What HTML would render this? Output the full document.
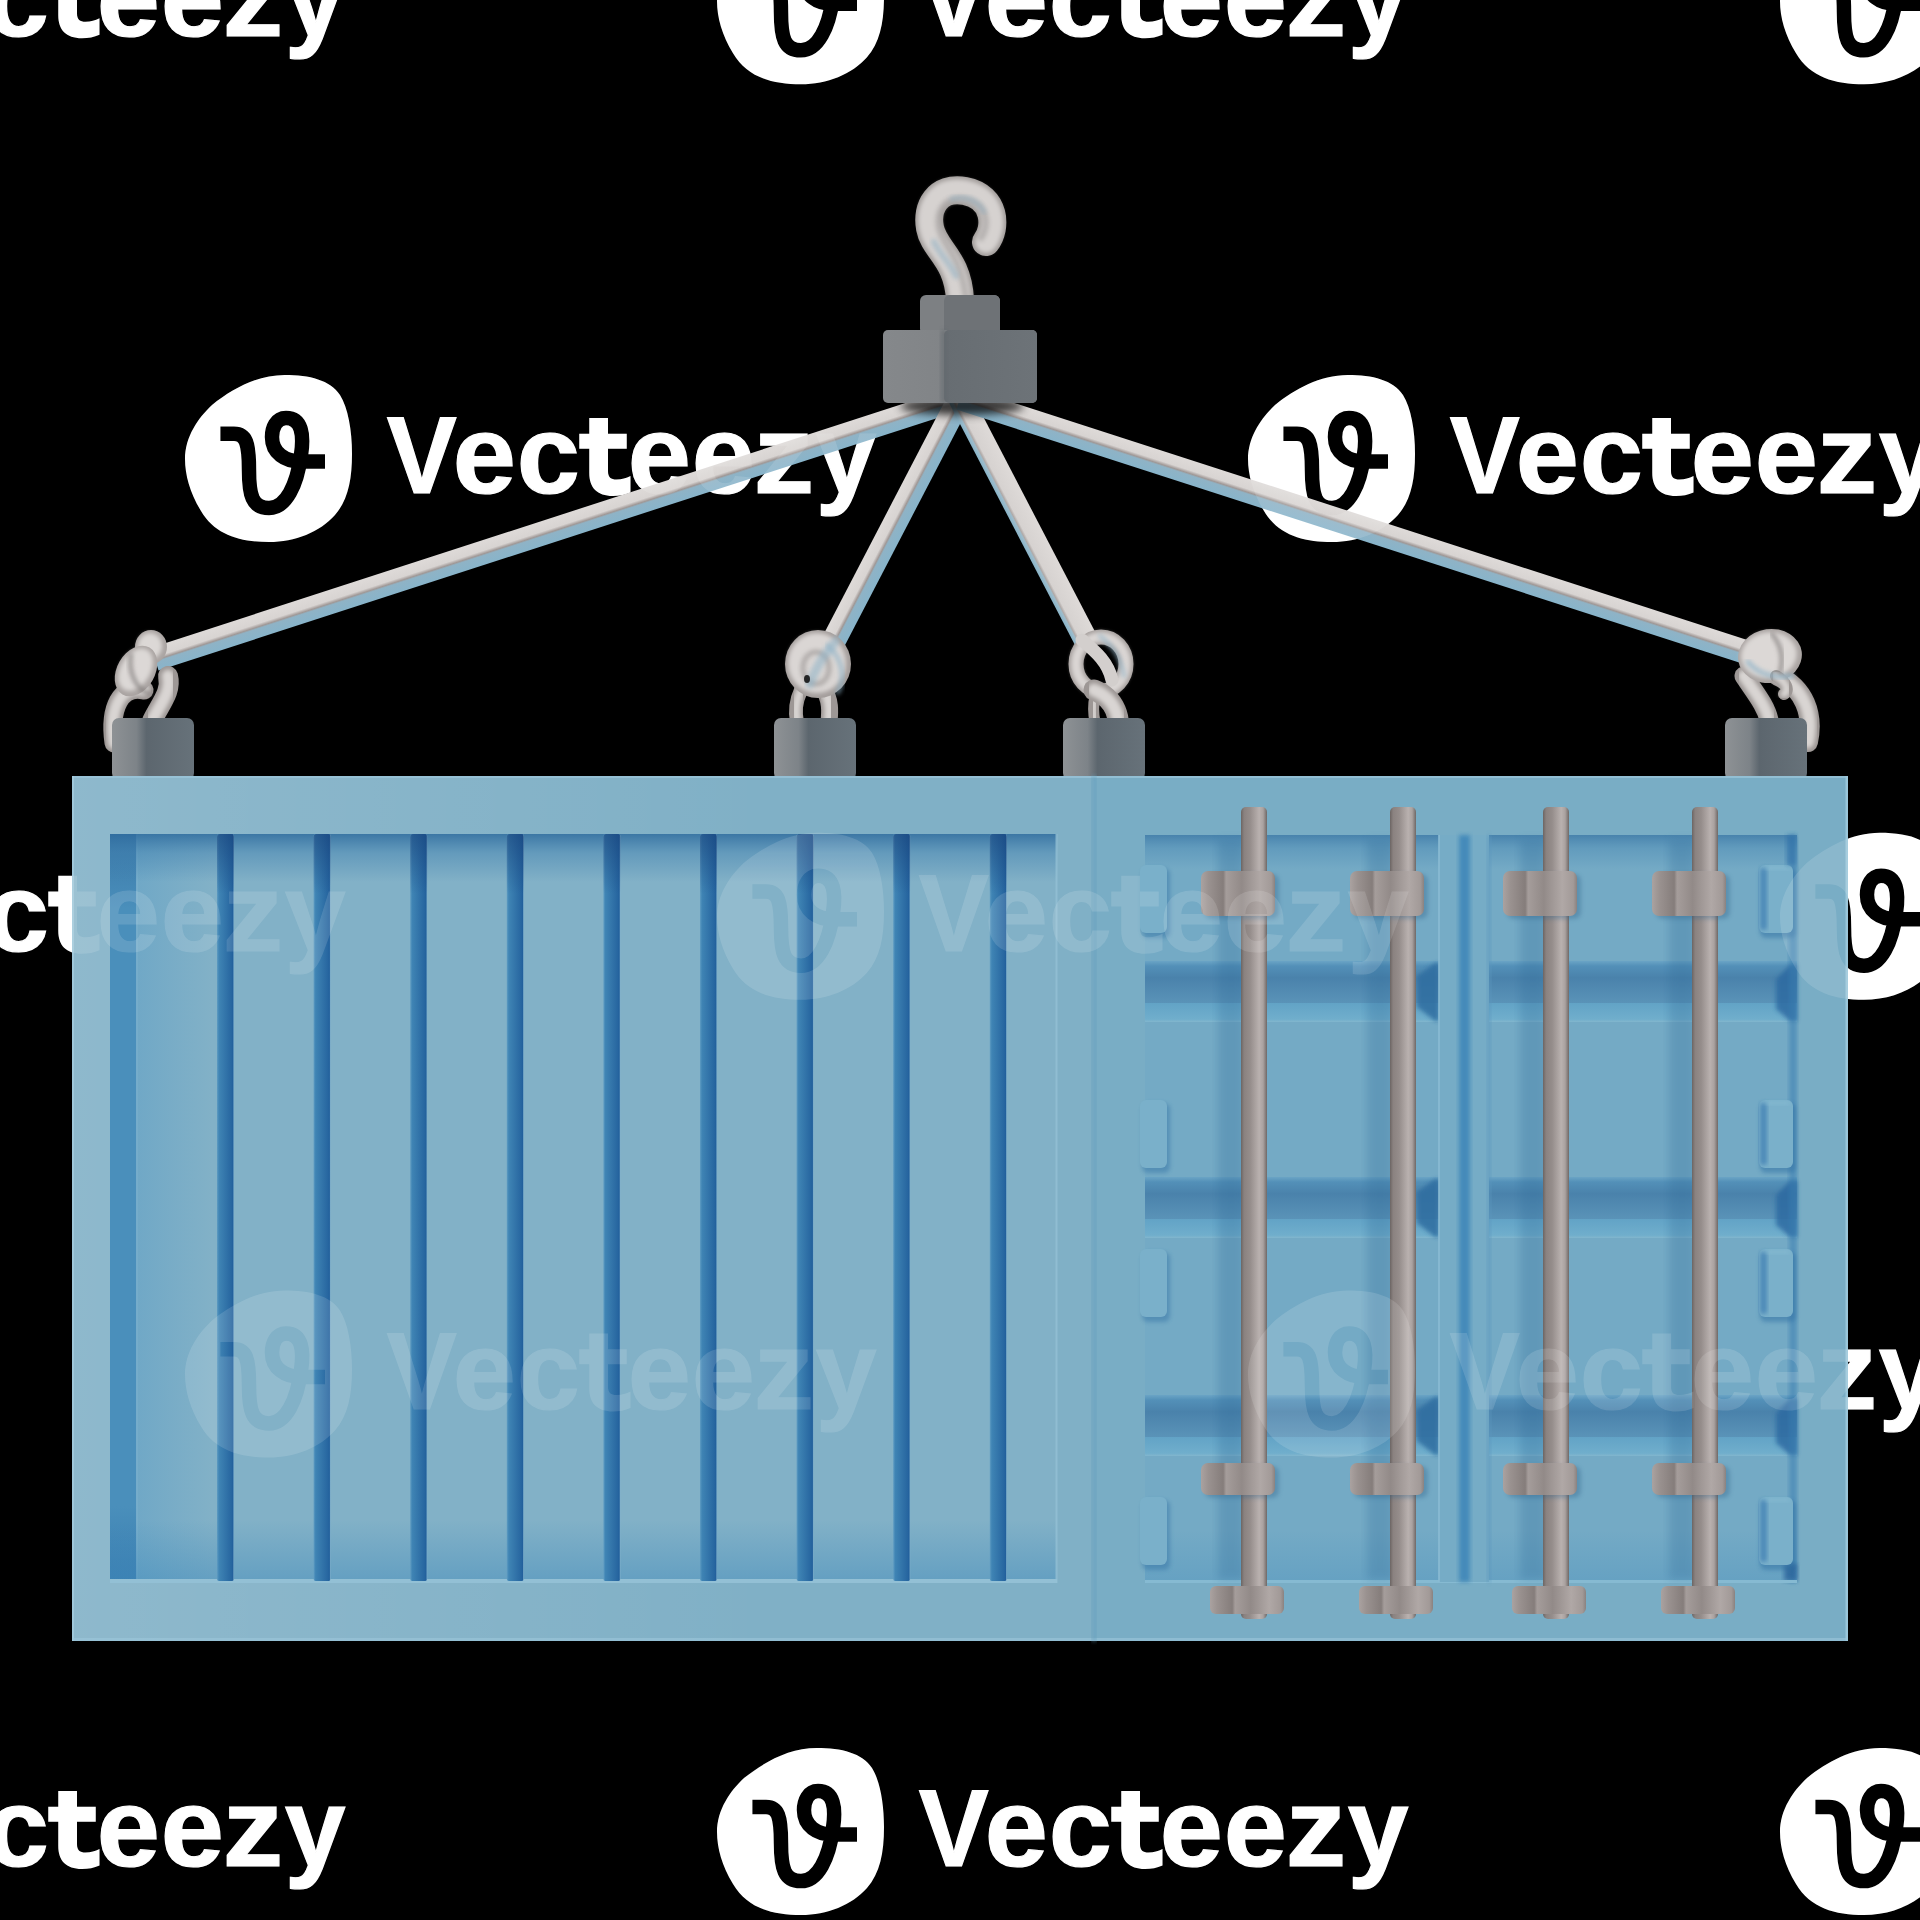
<!DOCTYPE html>
<html><head><meta charset="utf-8"><style>html,body{margin:0;padding:0;background:#000;width:1920px;height:1920px;overflow:hidden}</style></head>
<body>
<svg width="1920" height="1920" viewBox="0 0 1920 1920" style="display:block">
<defs>
<mask id="vmask" maskUnits="userSpaceOnUse" x="-10" y="-10" width="200" height="200">
  <rect x="-10" y="-10" width="200" height="200" fill="#000"/>
  <path d="M99.6 0 C125 0 145 5 155 20 C163 33 167 55 167 79 C167 105 163 125 150 140 C135 157 110 167 84 167 C55 167 30 160 16 136 C5 118 0 100 0 84 C0 62 13 43 27 30 C47 14 72 0 99.6 0 Z" fill="#fff"/>
  <path d="M35.4 58.8 L49 58.8 C61 58.8 64 68 64 95 C64 120 67 133 84 133 C101 133 112 110 116 80 C119 60 117 43 101 43 C91 43 87 53 87 62 C87 78 100 86.5 116 86.5 L140 86.5" fill="none" stroke="#000" stroke-width="14.5" stroke-linejoin="round"/>
</mask>
<g id="wm">
  <rect x="-10" y="-10" width="200" height="200" fill="#fff" mask="url(#vmask)"/>
  <text transform="translate(201.75 118.2) scale(0.946 0.994)" font-family="Liberation Sans" font-weight="bold" font-size="111" fill="#fff" stroke="#fff" stroke-width="1.2">V</text>
  <text transform="translate(267.66 118.2) scale(1.023 0.996)" font-family="Liberation Sans" font-weight="bold" font-size="111" fill="#fff" stroke="#fff" stroke-width="1.2">e</text>
  <text transform="translate(331.66 118.2) scale(1.023 0.996)" font-family="Liberation Sans" font-weight="bold" font-size="111" fill="#fff" stroke="#fff" stroke-width="1.2">c</text>
  <path d="M404.25 43 L423 43 L423 58.75 L441.75 58.75 L441.75 73.75 L423 73.75 L423 96 C423 102.5 426 104.5 431.5 104.5 C437 104.5 441 103 445.5 101 L445.5 117.5 C440 120 434.5 121 428 121 C412 121 404.25 112.5 404.25 98 L404.25 73.75 L394.25 73.75 L394.25 58.75 L404.25 58.75 Z" fill="#fff"/>
  <text transform="translate(442.66 118.2) scale(1.023 0.996)" font-family="Liberation Sans" font-weight="bold" font-size="111" fill="#fff" stroke="#fff" stroke-width="1.2">e</text>
  <text transform="translate(506.66 118.2) scale(1.023 0.996)" font-family="Liberation Sans" font-weight="bold" font-size="111" fill="#fff" stroke="#fff" stroke-width="1.2">e</text>
  <text transform="translate(568.38 118.2) scale(1.094 1.000)" font-family="Liberation Sans" font-weight="bold" font-size="111" fill="#fff" stroke="#fff" stroke-width="1.2">z</text>
  <text transform="translate(630.75 118.2) scale(0.984 1.000)" font-family="Liberation Sans" font-weight="bold" font-size="111" fill="#fff" stroke="#fff" stroke-width="1.2">y</text>
</g>
<filter id="blur2" x="-20%" y="-20%" width="140%" height="140%"><feGaussianBlur stdDeviation="2"/></filter>
<filter id="blur4" x="-20%" y="-50%" width="140%" height="200%"><feGaussianBlur stdDeviation="4"/></filter>

<linearGradient id="gBlockL" x1="0" x2="1"><stop offset="0" stop-color="#85888b"/><stop offset="1" stop-color="#7b7e81"/></linearGradient>
<linearGradient id="gBlockR" x1="0" x2="1"><stop offset="0" stop-color="#676d72"/><stop offset="1" stop-color="#6d7378"/></linearGradient>
<linearGradient id="gPost" x1="0" x2="1">
  <stop offset="0" stop-color="#8e9295"/><stop offset="0.3" stop-color="#7d8388"/><stop offset="0.42" stop-color="#5c666e"/><stop offset="1" stop-color="#67727a"/>
</linearGradient>
<linearGradient id="gRib" x1="0" x2="1">
  <stop offset="0" stop-color="#5f9cc2"/><stop offset="0.12" stop-color="#3f84b4"/><stop offset="0.85" stop-color="#2766a0"/><stop offset="0.93" stop-color="#22609c"/><stop offset="1" stop-color="#7fb0cc"/>
</linearGradient>
<linearGradient id="gRibTop" x1="0" x2="0" y1="0" y2="1">
  <stop offset="0" stop-color="#163f78" stop-opacity="0.6"/><stop offset="1" stop-color="#163f78" stop-opacity="0"/>
</linearGradient>
<linearGradient id="gRod" x1="0" x2="1">
  <stop offset="0" stop-color="#6c6563"/><stop offset="0.12" stop-color="#8a8280"/><stop offset="0.35" stop-color="#958d8b"/><stop offset="0.7" stop-color="#b9b1af"/><stop offset="0.85" stop-color="#aaa2a0"/><stop offset="1" stop-color="#6f6866"/>
</linearGradient>
<linearGradient id="gBracket" x1="0" x2="1">
  <stop offset="0" stop-color="#aaa2a0"/><stop offset="0.1" stop-color="#9a9290"/><stop offset="0.3" stop-color="#857d7b"/><stop offset="0.34" stop-color="#a59d9b"/><stop offset="0.55" stop-color="#928a88"/><stop offset="0.8" stop-color="#b0a8a6"/><stop offset="0.95" stop-color="#a29a98"/><stop offset="1" stop-color="#8a8280"/>
</linearGradient>
<linearGradient id="gPanelTop" x1="0" x2="0" y1="0" y2="1">
  <stop offset="0" stop-color="#2f6c9e" stop-opacity="0.85"/><stop offset="0.4" stop-color="#3f7fae" stop-opacity="0.45"/><stop offset="1" stop-color="#3f7fae" stop-opacity="0"/>
</linearGradient>
<linearGradient id="gPanelBot" x1="0" x2="0" y1="0" y2="1">
  <stop offset="0" stop-color="#3f8abb" stop-opacity="0"/><stop offset="1" stop-color="#3f8abb" stop-opacity="0.45"/>
</linearGradient>
<linearGradient id="gLeftFade" x1="0" x2="1">
  <stop offset="0" stop-color="#64a2c6" stop-opacity="0.6"/><stop offset="1" stop-color="#64a2c6" stop-opacity="0"/>
</linearGradient>
<linearGradient id="gStrip" x1="0" x2="0" y1="0" y2="1">
  <stop offset="0" stop-color="#3a78a8"/><stop offset="0.1" stop-color="#4a8fbb"/><stop offset="0.9" stop-color="#4a8fbb"/><stop offset="1" stop-color="#3a7db0"/>
</linearGradient>
<linearGradient id="gGroove" x1="0" x2="0" y1="0" y2="1">
  <stop offset="0" stop-color="#6aa4c5"/><stop offset="0.12" stop-color="#5390b8"/><stop offset="0.4" stop-color="#4a82ab"/><stop offset="1" stop-color="#5a93b8"/>
</linearGradient>
<linearGradient id="gRaised" x1="0" x2="0" y1="0" y2="1">
  <stop offset="0" stop-color="#62a3c6"/><stop offset="0.85" stop-color="#70aecc"/><stop offset="1" stop-color="#82b6cd"/>
</linearGradient>
<linearGradient id="gFrameShade" x1="0" x2="1" y1="0" y2="0">
  <stop offset="0" stop-color="#ffffff" stop-opacity="0.11"/><stop offset="1" stop-color="#ffffff" stop-opacity="0"/>
</linearGradient>
<linearGradient id="gCableL" gradientUnits="userSpaceOnUse" x1="0" y1="-12" x2="0" y2="12">
  <stop offset="0" stop-color="#dedad8"/><stop offset="0.42" stop-color="#d8d4d2"/><stop offset="0.55" stop-color="#a09896"/><stop offset="0.62" stop-color="#8fb3c6"/><stop offset="1" stop-color="#88b4ca"/>
</linearGradient>
<linearGradient id="gCableR" gradientUnits="userSpaceOnUse" x1="0" y1="-12" x2="0" y2="12">
  <stop offset="0" stop-color="#dedad8"/><stop offset="0.7" stop-color="#d6d2d0"/><stop offset="0.8" stop-color="#b0aaa8"/><stop offset="0.86" stop-color="#9cbccc"/><stop offset="1" stop-color="#8ab4c8"/>
</linearGradient>
<linearGradient id="gHook" x1="0" x2="1">
  <stop offset="0" stop-color="#d8d4d2"/><stop offset="0.5" stop-color="#bdb7b5"/><stop offset="1" stop-color="#d5d1cf"/>
</linearGradient>
</defs>
<rect width="1920" height="1920" fill="#000"/>
<use href="#wm" x="-346.0" y="-82.7"/>
<use href="#wm" x="717.0" y="-82.7"/>
<use href="#wm" x="1780.0" y="-82.7"/>
<use href="#wm" x="185.0" y="375.0"/>
<use href="#wm" x="1248.0" y="375.0"/>
<use href="#wm" x="-346.0" y="832.7"/>
<use href="#wm" x="717.0" y="832.7"/>
<use href="#wm" x="1780.0" y="832.7"/>
<use href="#wm" x="185.0" y="1290.4"/>
<use href="#wm" x="1248.0" y="1290.4"/>
<use href="#wm" x="-346.0" y="1748.1"/>
<use href="#wm" x="717.0" y="1748.1"/>
<use href="#wm" x="1780.0" y="1748.1"/>
<g transform="translate(960,398) rotate(162.034) scale(1,-1)"><rect x="0" y="-12" width="846.4" height="24" fill="url(#gCableL)"/></g>
<g transform="translate(960,398) rotate(117.467) scale(1,-1)"><rect x="0" y="-12" width="281.0" height="24" fill="url(#gCableL)"/></g>
<g transform="translate(960,398) rotate(62.533) scale(1,1)"><rect x="0" y="-12" width="281.0" height="24" fill="url(#gCableR)"/></g>
<g transform="translate(960,398) rotate(17.916) scale(1,1)"><rect x="0" y="-12" width="835.7" height="24" fill="url(#gCableL)"/></g>
<ellipse cx="962" cy="406" rx="62" ry="9" fill="#000" opacity="0.75" filter="url(#blur4)"/>
<path d="M986 242 C997 228 996 197 965 191 C937 186 926 208 930 228 C934 250 958 258 960 300" fill="none" stroke="#a29d9b" stroke-width="28" stroke-linecap="round"/>
<path d="M986 242 C997 228 996 197 965 191 C937 186 926 208 930 228 C934 250 958 258 960 300" fill="none" stroke="#d6d2d0" stroke-width="22" stroke-linecap="round" filter="url(#blur2)"/>
<path d="M981 238 C989 226 989 204 965 199 C944 196 936 212 939 228 C942 246 962 256 966 300" fill="none" stroke="#8e8a89" stroke-width="6" stroke-linecap="round" opacity="0.45" filter="url(#blur2)"/>
<path d="M934 242 C941 256 950 263 956 276" fill="none" stroke="#8fb0c4" stroke-width="6" stroke-linecap="round" opacity="0.55" filter="url(#blur2)"/>
<path d="M952 199 C966 195 979 201 984 212" fill="none" stroke="#8fb0c4" stroke-width="5" stroke-linecap="round" opacity="0.45" filter="url(#blur2)"/>
<rect x="920" y="295" width="80" height="40" rx="6" fill="#7d8083"/>
<rect x="944" y="295" width="56" height="40" rx="6" fill="#6e7276"/>
<rect x="883" y="330" width="154" height="73" rx="5" fill="url(#gBlockL)"/>
<rect x="944" y="330" width="93" height="73" rx="5" fill="url(#gBlockR)"/>
<rect x="941" y="330" width="6" height="73" fill="#62686d" opacity="0.6" filter="url(#blur2)"/>
<path d="M144 690 C121 684 109 708 114 743" fill="none" stroke="#9d9795" stroke-width="19" stroke-linecap="round"/><path d="M144 690 C121 684 109 708 114 743" fill="none" stroke="#d9d5d3" stroke-width="11.8" stroke-linecap="round" filter="url(#blur2)"/>
<path d="M168 676 C172 692 160 704 152 721" fill="none" stroke="#9d9795" stroke-width="20" stroke-linecap="round"/><path d="M168 676 C172 692 160 704 152 721" fill="none" stroke="#d9d5d3" stroke-width="12.4" stroke-linecap="round" filter="url(#blur2)"/>
<ellipse cx="151" cy="647" rx="16" ry="17" transform="rotate(0 151 647)" fill="#aaa4a2"/><ellipse cx="150" cy="646" rx="12" ry="13" transform="rotate(0 151 647)" fill="#dcd8d6" filter="url(#blur2)"/>
<ellipse cx="136" cy="671" rx="19" ry="27" transform="rotate(30 136 671)" fill="#aaa4a2"/><ellipse cx="135" cy="670" rx="15" ry="23" transform="rotate(30 136 671)" fill="#dcd8d6" filter="url(#blur2)"/>
<path d="M131 655 C128 672 136 690 150 694" fill="none" stroke="#7d7877" stroke-width="4" stroke-linecap="round" opacity="0.7" filter="url(#blur2)"/>
<path d="M801 690 C795 703 795 712 797 722" fill="none" stroke="#9d9795" stroke-width="14" stroke-linecap="round"/><path d="M801 690 C795 703 795 712 797 722" fill="none" stroke="#d9d5d3" stroke-width="8.7" stroke-linecap="round" filter="url(#blur2)"/>
<path d="M823 688 C831 700 830 712 829 722" fill="none" stroke="#9d9795" stroke-width="17" stroke-linecap="round"/><path d="M823 688 C831 700 830 712 829 722" fill="none" stroke="#d9d5d3" stroke-width="10.5" stroke-linecap="round" filter="url(#blur2)"/>
<ellipse cx="818" cy="664" rx="33" ry="34" fill="#a49e9c"/>
<ellipse cx="817" cy="663" rx="29" ry="30" fill="#dad6d4" filter="url(#blur2)"/>
<ellipse cx="816" cy="668" rx="13" ry="16" fill="none" stroke="#8f8a89" stroke-width="5" opacity="0.55" filter="url(#blur2)"/>
<path d="M836 641 C826 652 816 666 810 684" fill="none" stroke="#8fb3c8" stroke-width="9" stroke-linecap="round" opacity="0.55" filter="url(#blur2)"/>
<ellipse cx="807" cy="679" rx="3" ry="4" fill="#000" opacity="0.8"/>
<path d="M828 646 C842 658 846 676 838 692" fill="none" stroke="#8fb3c8" stroke-width="5" stroke-linecap="round" opacity="0.6" filter="url(#blur2)"/>
<path d="M1095 696 C1093 705 1093 712 1095 722" fill="none" stroke="#9d9795" stroke-width="11" stroke-linecap="round"/><path d="M1095 696 C1093 705 1093 712 1095 722" fill="none" stroke="#d9d5d3" stroke-width="6.8" stroke-linecap="round" filter="url(#blur2)"/>
<ellipse cx="1101" cy="664" rx="25" ry="27" fill="none" stroke="#a49e9c" stroke-width="15"/>
<ellipse cx="1101" cy="664" rx="25" ry="27" fill="none" stroke="#dad6d4" stroke-width="10" filter="url(#blur2)"/>
<path d="M1082 640 C1096 652 1108 662 1112 680" fill="none" stroke="#d3cfcd" stroke-width="13" stroke-linecap="round"/>
<path d="M1094 690 C1114 698 1124 718 1115 741" fill="none" stroke="#9d9795" stroke-width="21" stroke-linecap="round"/><path d="M1094 690 C1114 698 1124 718 1115 741" fill="none" stroke="#d9d5d3" stroke-width="13.0" stroke-linecap="round" filter="url(#blur2)"/>
<path d="M1100 636 C1114 646 1122 662 1124 676" fill="none" stroke="#8fb3c8" stroke-width="4" stroke-linecap="round" opacity="0.6" filter="url(#blur2)"/>
<path d="M1744 676 C1756 694 1766 706 1769 720" fill="none" stroke="#9d9795" stroke-width="19" stroke-linecap="round"/><path d="M1744 676 C1756 694 1766 706 1769 720" fill="none" stroke="#d9d5d3" stroke-width="11.8" stroke-linecap="round" filter="url(#blur2)"/>
<path d="M1778 676 C1804 688 1814 714 1808 742" fill="none" stroke="#9d9795" stroke-width="20" stroke-linecap="round"/><path d="M1778 676 C1804 688 1814 714 1808 742" fill="none" stroke="#d9d5d3" stroke-width="12.4" stroke-linecap="round" filter="url(#blur2)"/>
<ellipse cx="1770" cy="656" rx="32" ry="27" transform="rotate(-8 1770 656)" fill="#aaa4a2"/><ellipse cx="1769" cy="655" rx="28" ry="23" transform="rotate(-8 1770 656)" fill="#dcd8d6" filter="url(#blur2)"/>
<path d="M1776 676 C1786 682 1790 690 1784 694" fill="none" stroke="#9d9795" stroke-width="12" stroke-linecap="round"/><path d="M1776 676 C1786 682 1790 690 1784 694" fill="none" stroke="#d9d5d3" stroke-width="7.4" stroke-linecap="round" filter="url(#blur2)"/>
<path d="M1748 662 C1758 674 1774 678 1792 676" fill="none" stroke="#8fb3c8" stroke-width="5" stroke-linecap="round" opacity="0.7" filter="url(#blur2)"/>
<path d="M1772 634 C1782 646 1784 658 1780 672" fill="none" stroke="#7d7877" stroke-width="4" stroke-linecap="round" opacity="0.7" filter="url(#blur2)"/>
<rect x="112" y="718" width="82" height="62" rx="7" fill="url(#gPost)"/>
<rect x="774" y="718" width="82" height="62" rx="7" fill="url(#gPost)"/>
<rect x="1063" y="718" width="82" height="62" rx="7" fill="url(#gPost)"/>
<rect x="1725" y="718" width="82" height="62" rx="7" fill="url(#gPost)"/>
<rect x="72" y="776" width="1776" height="865" fill="#79adc5"/>
<rect x="72" y="776" width="1022" height="865" fill="#80b0c6"/>
<rect x="72" y="776" width="700" height="865" fill="url(#gFrameShade)"/>
<rect x="1845.5" y="776" width="2.5" height="865" fill="#a8d0e2" opacity="0.7"/>
<rect x="72" y="776" width="1776" height="2" fill="#9cc6da" opacity="0.7"/>
<rect x="72" y="776" width="2" height="865" fill="#a8cfe0" opacity="0.7"/>
<rect x="72" y="1638" width="1776" height="3" fill="#9cc6da" opacity="0.6"/>
<rect x="1092" y="776" width="4" height="865" fill="#68a0be" opacity="0.8" filter="url(#blur2)"/>
<rect x="110" y="834" width="947" height="747" fill="#82b1c7"/>
<rect x="137" y="834" width="75" height="747" fill="url(#gLeftFade)"/>
<rect x="110" y="834" width="27" height="747" fill="url(#gStrip)"/>
<rect x="136" y="834" width="1.5" height="747" fill="#7fb3cf" opacity="0.8"/>
<rect x="110" y="834" width="947" height="48" fill="url(#gPanelTop)"/>
<rect x="110" y="1520" width="947" height="61" fill="url(#gPanelBot)"/>
<rect x="110" y="1579" width="947" height="4" fill="#93c0d5"/>
<rect x="1055.5" y="834" width="2" height="749" fill="#93c0d5" opacity="0.8"/>
<rect x="217.0" y="834" width="17" height="747" rx="2" fill="url(#gRib)"/>
<rect x="217.0" y="834" width="17" height="60" rx="3" fill="url(#gRibTop)"/>
<rect x="313.6" y="834" width="17" height="747" rx="2" fill="url(#gRib)"/>
<rect x="313.6" y="834" width="17" height="60" rx="3" fill="url(#gRibTop)"/>
<rect x="410.2" y="834" width="17" height="747" rx="2" fill="url(#gRib)"/>
<rect x="410.2" y="834" width="17" height="60" rx="3" fill="url(#gRibTop)"/>
<rect x="506.8" y="834" width="17" height="747" rx="2" fill="url(#gRib)"/>
<rect x="506.8" y="834" width="17" height="60" rx="3" fill="url(#gRibTop)"/>
<rect x="603.4" y="834" width="17" height="747" rx="2" fill="url(#gRib)"/>
<rect x="603.4" y="834" width="17" height="60" rx="3" fill="url(#gRibTop)"/>
<rect x="700.0" y="834" width="17" height="747" rx="2" fill="url(#gRib)"/>
<rect x="700.0" y="834" width="17" height="60" rx="3" fill="url(#gRibTop)"/>
<rect x="796.6" y="834" width="17" height="747" rx="2" fill="url(#gRib)"/>
<rect x="796.6" y="834" width="17" height="60" rx="3" fill="url(#gRibTop)"/>
<rect x="893.2" y="834" width="17" height="747" rx="2" fill="url(#gRib)"/>
<rect x="893.2" y="834" width="17" height="60" rx="3" fill="url(#gRibTop)"/>
<rect x="989.8" y="834" width="17" height="747" rx="2" fill="url(#gRib)"/>
<rect x="989.8" y="834" width="17" height="60" rx="3" fill="url(#gRibTop)"/>
<rect x="1145" y="835" width="652" height="747" fill="#74aac5"/>
<rect x="1145" y="835" width="652" height="34" fill="url(#gPanelTop)" opacity="0.75"/>
<rect x="1145" y="961" width="652" height="42" fill="url(#gGroove)"/>
<rect x="1145" y="1003" width="652" height="19" fill="url(#gRaised)"/>
<rect x="1145" y="1177" width="652" height="42" fill="url(#gGroove)"/>
<rect x="1145" y="1219" width="652" height="19" fill="url(#gRaised)"/>
<rect x="1145" y="1395" width="652" height="42" fill="url(#gGroove)"/>
<rect x="1145" y="1437" width="652" height="19" fill="url(#gRaised)"/>
<path d="M1417 976 L1435 963 L1439 963 L1439 1021 L1435 1021 L1417 1007 Z" fill="#2f6da0" opacity="0.85" filter="url(#blur2)"/>
<path d="M1776 979 L1790 965 L1797 965 L1797 1021 L1790 1021 L1776 1009 Z" fill="#2a68a0" opacity="0.8" filter="url(#blur2)"/>
<path d="M1417 1192 L1435 1179 L1439 1179 L1439 1237 L1435 1237 L1417 1223 Z" fill="#2f6da0" opacity="0.85" filter="url(#blur2)"/>
<path d="M1776 1195 L1790 1181 L1797 1181 L1797 1237 L1790 1237 L1776 1225 Z" fill="#2a68a0" opacity="0.8" filter="url(#blur2)"/>
<path d="M1417 1410 L1435 1397 L1439 1397 L1439 1455 L1435 1455 L1417 1441 Z" fill="#2f6da0" opacity="0.85" filter="url(#blur2)"/>
<path d="M1776 1413 L1790 1399 L1797 1399 L1797 1455 L1790 1455 L1776 1443 Z" fill="#2a68a0" opacity="0.8" filter="url(#blur2)"/>
<rect x="1789" y="835" width="8" height="747" fill="#3a7db0" opacity="0.55" filter="url(#blur2)"/>
<rect x="1784" y="1564" width="13" height="17" fill="#1e4f8a" opacity="0.7" filter="url(#blur2)"/>
<rect x="1145" y="1530" width="652" height="52" fill="url(#gPanelBot)" opacity="0.6"/>
<rect x="1145" y="1580" width="652" height="3" fill="#86bad2"/>
<rect x="1439" y="835" width="50" height="747" fill="#76acc6"/>
<rect x="1438" y="835" width="2" height="747" fill="#8bbcd3" opacity="0.8"/>
<rect x="1459" y="835" width="11" height="747" fill="#3e85b8" opacity="0.85" filter="url(#blur2)"/>
<rect x="1487" y="835" width="4" height="747" fill="#5d97bd" opacity="0.6" filter="url(#blur2)"/>
<rect x="1142" y="868" width="28" height="70" rx="6" fill="#2f6ea2" opacity="0.45" filter="url(#blur2)"/>
<rect x="1140" y="865" width="27" height="68" rx="6" fill="#7ab0ca"/>
<rect x="1760" y="868" width="36" height="70" rx="6" fill="#2f6ea2" opacity="0.5" filter="url(#blur2)"/>
<rect x="1759" y="865" width="34" height="68" rx="6" fill="#7ab0ca"/>
<rect x="1760" y="868" width="7" height="62" rx="3" fill="#3a7ab0" opacity="0.7" filter="url(#blur2)"/>
<rect x="1766" y="866" width="24" height="4" rx="2" fill="#8cc0d6" opacity="0.5" filter="url(#blur2)"/>
<rect x="1142" y="1103" width="28" height="70" rx="6" fill="#2f6ea2" opacity="0.45" filter="url(#blur2)"/>
<rect x="1140" y="1100" width="27" height="68" rx="6" fill="#7ab0ca"/>
<rect x="1760" y="1103" width="36" height="70" rx="6" fill="#2f6ea2" opacity="0.5" filter="url(#blur2)"/>
<rect x="1759" y="1100" width="34" height="68" rx="6" fill="#7ab0ca"/>
<rect x="1760" y="1103" width="7" height="62" rx="3" fill="#3a7ab0" opacity="0.7" filter="url(#blur2)"/>
<rect x="1766" y="1101" width="24" height="4" rx="2" fill="#8cc0d6" opacity="0.5" filter="url(#blur2)"/>
<rect x="1142" y="1252" width="28" height="70" rx="6" fill="#2f6ea2" opacity="0.45" filter="url(#blur2)"/>
<rect x="1140" y="1249" width="27" height="68" rx="6" fill="#7ab0ca"/>
<rect x="1760" y="1252" width="36" height="70" rx="6" fill="#2f6ea2" opacity="0.5" filter="url(#blur2)"/>
<rect x="1759" y="1249" width="34" height="68" rx="6" fill="#7ab0ca"/>
<rect x="1760" y="1252" width="7" height="62" rx="3" fill="#3a7ab0" opacity="0.7" filter="url(#blur2)"/>
<rect x="1766" y="1250" width="24" height="4" rx="2" fill="#8cc0d6" opacity="0.5" filter="url(#blur2)"/>
<rect x="1142" y="1500" width="28" height="70" rx="6" fill="#2f6ea2" opacity="0.45" filter="url(#blur2)"/>
<rect x="1140" y="1497" width="27" height="68" rx="6" fill="#7ab0ca"/>
<rect x="1760" y="1500" width="36" height="70" rx="6" fill="#2f6ea2" opacity="0.5" filter="url(#blur2)"/>
<rect x="1759" y="1497" width="34" height="68" rx="6" fill="#7ab0ca"/>
<rect x="1760" y="1500" width="7" height="62" rx="3" fill="#3a7ab0" opacity="0.7" filter="url(#blur2)"/>
<rect x="1766" y="1498" width="24" height="4" rx="2" fill="#8cc0d6" opacity="0.5" filter="url(#blur2)"/>
<rect x="1786" y="835" width="10" height="30" fill="#2a6aa5" opacity="0.5" filter="url(#blur2)"/>
<rect x="1218" y="840" width="26" height="740" fill="#2f6a98" opacity="0.28" filter="url(#blur4)"/>
<rect x="1241" y="807" width="26" height="812" rx="5" fill="url(#gRod)"/>
<rect x="1205" y="874" width="74" height="45" rx="7" fill="#2f5f86" opacity="0.35" filter="url(#blur2)"/>
<rect x="1201" y="871" width="74" height="45" rx="7" fill="url(#gBracket)"/>
<rect x="1205" y="1466" width="74" height="32" rx="7" fill="#2f5f86" opacity="0.35" filter="url(#blur2)"/>
<rect x="1201" y="1463" width="74" height="32" rx="7" fill="url(#gBracket)"/>
<rect x="1210" y="1586" width="74" height="28" rx="6" fill="url(#gBracket)"/>
<rect x="1367" y="840" width="26" height="740" fill="#2f6a98" opacity="0.28" filter="url(#blur4)"/>
<rect x="1390" y="807" width="26" height="812" rx="5" fill="url(#gRod)"/>
<rect x="1354" y="874" width="74" height="45" rx="7" fill="#2f5f86" opacity="0.35" filter="url(#blur2)"/>
<rect x="1350" y="871" width="74" height="45" rx="7" fill="url(#gBracket)"/>
<rect x="1354" y="1466" width="74" height="32" rx="7" fill="#2f5f86" opacity="0.35" filter="url(#blur2)"/>
<rect x="1350" y="1463" width="74" height="32" rx="7" fill="url(#gBracket)"/>
<rect x="1359" y="1586" width="74" height="28" rx="6" fill="url(#gBracket)"/>
<rect x="1520" y="840" width="26" height="740" fill="#2f6a98" opacity="0.28" filter="url(#blur4)"/>
<rect x="1543" y="807" width="26" height="812" rx="5" fill="url(#gRod)"/>
<rect x="1507" y="874" width="74" height="45" rx="7" fill="#2f5f86" opacity="0.35" filter="url(#blur2)"/>
<rect x="1503" y="871" width="74" height="45" rx="7" fill="url(#gBracket)"/>
<rect x="1507" y="1466" width="74" height="32" rx="7" fill="#2f5f86" opacity="0.35" filter="url(#blur2)"/>
<rect x="1503" y="1463" width="74" height="32" rx="7" fill="url(#gBracket)"/>
<rect x="1512" y="1586" width="74" height="28" rx="6" fill="url(#gBracket)"/>
<rect x="1669" y="840" width="26" height="740" fill="#2f6a98" opacity="0.28" filter="url(#blur4)"/>
<rect x="1692" y="807" width="26" height="812" rx="5" fill="url(#gRod)"/>
<rect x="1656" y="874" width="74" height="45" rx="7" fill="#2f5f86" opacity="0.35" filter="url(#blur2)"/>
<rect x="1652" y="871" width="74" height="45" rx="7" fill="url(#gBracket)"/>
<rect x="1656" y="1466" width="74" height="32" rx="7" fill="#2f5f86" opacity="0.35" filter="url(#blur2)"/>
<rect x="1652" y="1463" width="74" height="32" rx="7" fill="url(#gBracket)"/>
<rect x="1661" y="1586" width="74" height="28" rx="6" fill="url(#gBracket)"/>
<g opacity="0.13"><use href="#wm" x="-346.0" y="-82.7"/>
<use href="#wm" x="717.0" y="-82.7"/>
<use href="#wm" x="1780.0" y="-82.7"/>
<use href="#wm" x="185.0" y="375.0"/>
<use href="#wm" x="1248.0" y="375.0"/>
<use href="#wm" x="-346.0" y="832.7"/>
<use href="#wm" x="717.0" y="832.7"/>
<use href="#wm" x="1780.0" y="832.7"/>
<use href="#wm" x="185.0" y="1290.4"/>
<use href="#wm" x="1248.0" y="1290.4"/>
<use href="#wm" x="-346.0" y="1748.1"/>
<use href="#wm" x="717.0" y="1748.1"/>
<use href="#wm" x="1780.0" y="1748.1"/></g>
</svg>
</body></html>
